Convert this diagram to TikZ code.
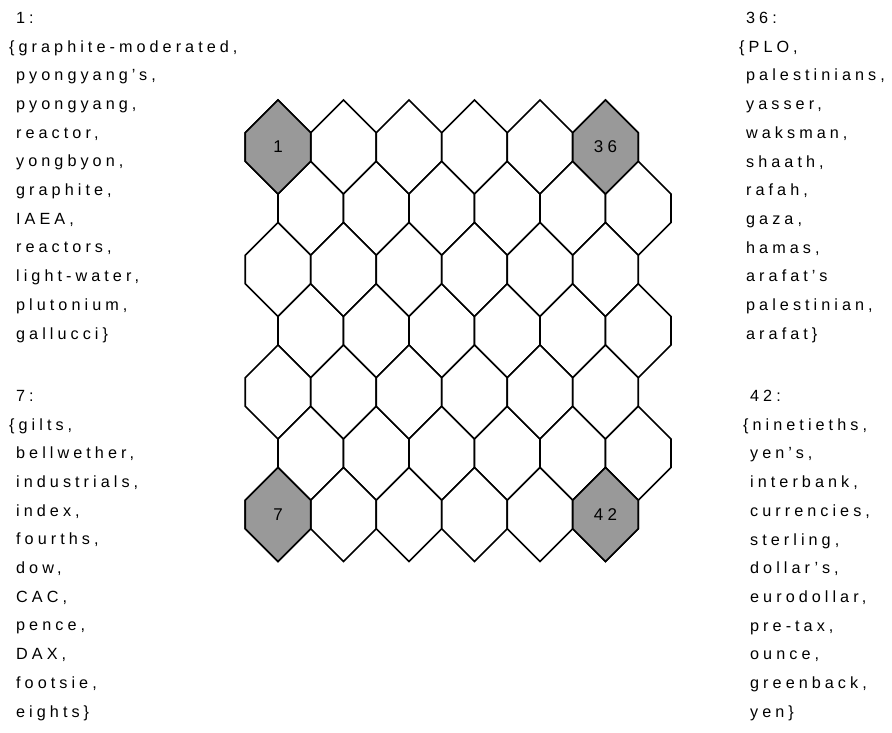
\documentclass[tikz,border=0pt]{standalone}
\usepackage{fontspec}
\setmainfont{Liberation Sans}
\newfontfamily\listfont[LetterSpace=25]{Liberation Sans}
\usetikzlibrary{positioning}

% one pointy-top cell of the map, drawn round a centre
\newcommand{\hexcell}[2][cell]{%
  \draw[#1] (#2) ++(0,-47) -- ++(32.75,32.75) -- ++(0,28.5)
    -- ++(-32.75,32.75) -- ++(-32.75,-32.75) -- ++(0,-28.5) -- cycle;}
\newcommand{\ind}{\hspace*{7pt}}

\begin{document}
\begin{tikzpicture}[
  x=1pt, y=-1pt,
  cell/.style={draw=black, line width=1.6pt, line join=miter, fill=white},
  hit/.style={cell, fill=black!40},
  unitlabel/.style={font=\listfont\fontsize{17}{20}\selectfont, inner sep=0pt},
  wordlist/.style={font=\listfont\fontsize{16.2}{28.7}\selectfont,
    align=left, inner sep=0pt, anchor=north west}
]
  \useasboundingbox (0,0) rectangle (892,733);

  % map: 6 columns x 7 rows, odd rows shifted half a cell
  \foreach \c in {0,...,5}{
    \foreach \r in {0,...,6}{
      \pgfmathsetmacro{\hx}{278+65.5*\c+32.75*mod(\r,2)}
      \pgfmathsetmacro{\hy}{147+61.25*\r}
      \coordinate (hex-\c-\r) at (\hx,\hy);
      \hexcell{hex-\c-\r}
    }
  }

  % the four corner units
  \foreach \c/\r in {0/0, 0/6, 5/0, 5/6}{
    \hexcell[hit]{hex-\c-\r}
  }
  \node[unitlabel] (u1)  at (hex-0-0) {1};
  \node[unitlabel] (u7)  at (hex-0-6) {7};
  \node[unitlabel] (u36) at (hex-5-0) {36};
  \node[unitlabel] (u42) at (hex-5-6) {42};

  % word lists of the corner units
  \node[wordlist] (list1) at (9,12) {
    \ind1:\\
    \{graphite-moderated,\\
    \ind pyongyang’s,\\
    \ind pyongyang,\\
    \ind reactor,\\
    \ind yongbyon,\\
    \ind graphite,\\
    \ind IAEA,\\
    \ind reactors,\\
    \ind light-water,\\
    \ind plutonium,\\
    \ind gallucci\}};

  \node[wordlist] (list7) at (9,390) {
    \ind7:\\
    \{gilts,\\
    \ind bellwether,\\
    \ind industrials,\\
    \ind index,\\
    \ind fourths,\\
    \ind dow,\\
    \ind CAC,\\
    \ind pence,\\
    \ind DAX,\\
    \ind footsie,\\
    \ind eights\}};

  \node[wordlist] (list36) at (739,12) {
    \ind36:\\
    \{PLO,\\
    \ind palestinians,\\
    \ind yasser,\\
    \ind waksman,\\
    \ind shaath,\\
    \ind rafah,\\
    \ind gaza,\\
    \ind hamas,\\
    \ind arafat’s\\
    \ind palestinian,\\
    \ind arafat\}};

  \node[wordlist] (list42) at (743,390) {
    \ind42:\\
    \{ninetieths,\\
    \ind yen’s,\\
    \ind interbank,\\
    \ind currencies,\\
    \ind sterling,\\
    \ind dollar’s,\\
    \ind eurodollar,\\
    \ind pre-tax,\\
    \ind ounce,\\
    \ind greenback,\\
    \ind yen\}};
\end{tikzpicture}
\end{document}
